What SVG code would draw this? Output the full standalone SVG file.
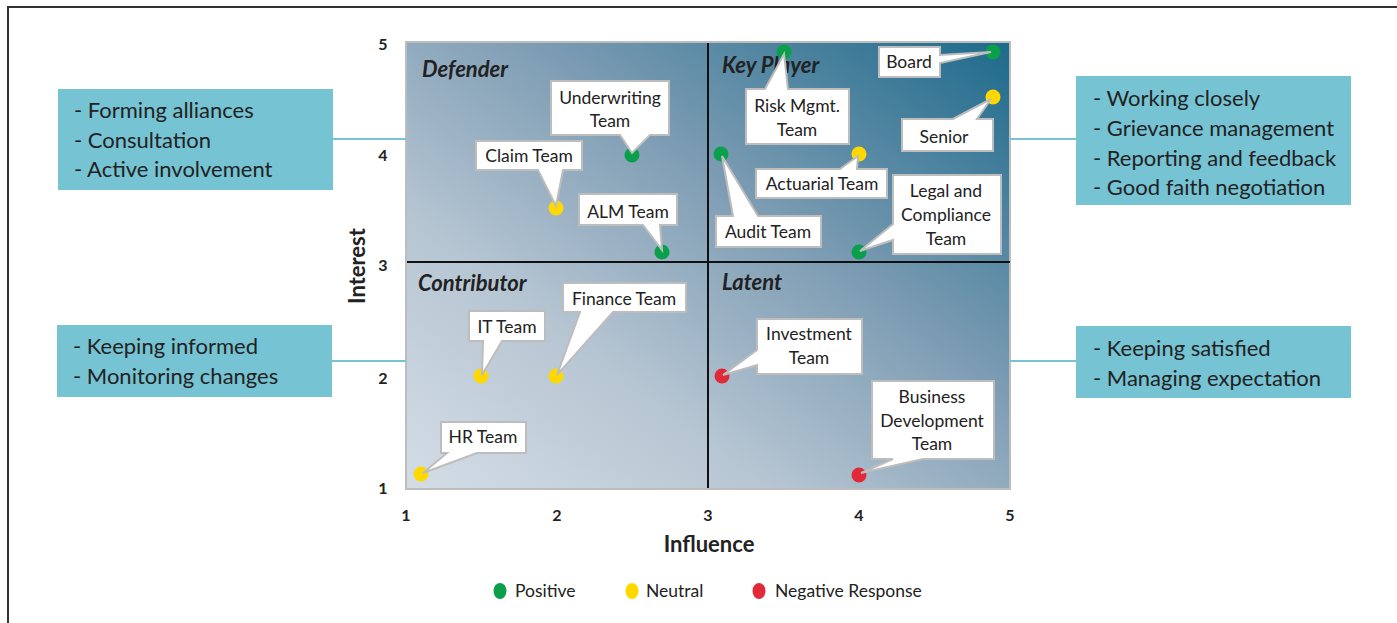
<svg xmlns="http://www.w3.org/2000/svg" width="1397" height="623" viewBox="0 0 1397 623">
<defs>
<linearGradient id="bg" x1="0" y1="1" x2="1" y2="0">
<stop offset="0" stop-color="#d4dde6"/>
<stop offset="0.3" stop-color="#b7c6d3"/>
<stop offset="0.6" stop-color="#7e9db4"/>
<stop offset="1" stop-color="#1d6a8b"/>
</linearGradient>
<style>
text{font-family:Lato,"Open Sans","Liberation Sans",sans-serif;fill:#222}
.box{fill:#75c3d3}
.link{stroke:#75c3d3;stroke-width:2;fill:none}
.side{font-size:22px}
.call{fill:#fff;stroke:#bdbdbd;stroke-width:2;stroke-linejoin:miter}
.ct{font-size:17.5px;text-anchor:middle}
.quad{font-size:22px;font-weight:bold;font-style:italic}
.tick{font-size:16px;font-weight:bold;text-anchor:middle}
.ax{font-size:22px;font-weight:bold;text-anchor:middle}
.g{fill:#0aa04b}.y{fill:#ffd800}.r{fill:#e02a3a}
.leg{font-size:17.5px}
</style>
</defs>
<rect width="1397" height="623" fill="#fff"/>
<path d="M8,623 V7 H1397" fill="none" stroke="#333" stroke-width="2"/>

<g id="plot">
<rect x="406" y="42" width="604" height="447" fill="url(#bg)" stroke="#bdbdbd" stroke-width="2"/>
<line x1="708" y1="43" x2="708" y2="488" stroke="#111" stroke-width="2"/>
<line x1="407" y1="262" x2="1010" y2="262" stroke="#111" stroke-width="2"/>
<text class="quad" x="422" y="77">Defender</text>
<text class="quad" x="722" y="73">Key Player</text>
<text class="quad" x="418" y="291">Contributor</text>
<text class="quad" x="722" y="290">Latent</text>
</g>

<g id="axes">
<text class="tick" x="383" y="50">5</text>
<text class="tick" x="383" y="161">4</text>
<text class="tick" x="383" y="271">3</text>
<text class="tick" x="383" y="384">2</text>
<text class="tick" x="383" y="494">1</text>
<text class="tick" x="406" y="521">1</text>
<text class="tick" x="557" y="521">2</text>
<text class="tick" x="708" y="521">3</text>
<text class="tick" x="859" y="521">4</text>
<text class="tick" x="1010" y="521">5</text>
<text class="ax" x="709" y="552">Influence</text>
<text class="ax" transform="translate(365,266) rotate(-90)">Interest</text>
</g>

<g id="connectors">
<line class="link" x1="333" y1="139" x2="406" y2="139"/>
<line class="link" x1="332" y1="361" x2="406" y2="361"/>
<line class="link" x1="1010" y1="139" x2="1076" y2="139"/>
<line class="link" x1="1010" y1="361" x2="1076" y2="361"/>
</g>

<g id="box-defender">
<rect class="box" x="58" y="89" width="275" height="101"/>
<text class="side" x="74" y="118">- Forming alliances</text>
<text class="side" x="74" y="148">- Consultation</text>
<text class="side" x="74" y="177">- Active involvement</text>
</g>
<g id="box-contributor">
<rect class="box" x="57" y="325" width="275" height="72"/>
<text class="side" x="73" y="354">- Keeping informed</text>
<text class="side" x="73" y="384">- Monitoring changes</text>
</g>
<g id="box-keyplayer">
<rect class="box" x="1076" y="76" width="275" height="129"/>
<text class="side" x="1093" y="106">- Working closely</text>
<text class="side" x="1093" y="136">- Grievance management</text>
<text class="side" x="1093" y="166">- Reporting and feedback</text>
<text class="side" x="1093" y="195">- Good faith negotiation</text>
</g>
<g id="box-latent">
<rect class="box" x="1076" y="326" width="275" height="72"/>
<text class="side" x="1093" y="356">- Keeping satisfied</text>
<text class="side" x="1093" y="386">- Managing expectation</text>
</g>

<g id="dots">
<circle class="g" cx="632" cy="155" r="7.5"/>
<circle class="y" cx="556" cy="208" r="7.5"/>
<circle class="g" cx="662" cy="252" r="7.5"/>
<circle class="g" cx="993" cy="52" r="7.5"/>
<circle class="g" cx="784" cy="52" r="7.5"/>
<circle class="y" cx="993" cy="97" r="7.5"/>
<circle class="y" cx="859" cy="154" r="7.5"/>
<circle class="g" cx="721" cy="154" r="7.5"/>
<circle class="g" cx="859" cy="252" r="7.5"/>
<circle class="y" cx="481" cy="376" r="7.5"/>
<circle class="y" cx="556" cy="376" r="7.5"/>
<circle class="y" cx="421" cy="474" r="7.5"/>
<circle class="r" cx="722" cy="376" r="7.5"/>
<circle class="r" cx="859" cy="475" r="7.5"/>
</g>

<g id="underwriting">
<polygon class="call" points="551,81 669,81 669,135 650,135 632,153 620,135 551,135"/>
<text class="ct" x="610" y="104">Underwriting</text>
<text class="ct" x="610" y="127">Team</text>
</g>
<g id="claim">
<polygon class="call" points="476,141 582,141 582,170 563,170 556,206 538,170 476,170"/>
<text class="ct" x="529" y="162">Claim Team</text>
</g>
<g id="alm">
<polygon class="call" points="579,194 677,194 677,225 660,225 662,250 643,225 579,225"/>
<text class="ct" x="628" y="218">ALM Team</text>
</g>
<g id="board">
<polygon class="call" points="879,47 940,47 940,55 991,52 940,63 940,77 879,77"/>
<text class="ct" x="909" y="68">Board</text>
</g>
<g id="risk">
<polygon class="call" points="746,89 765,89 784,54 788,89 849,89 849,144 746,144"/>
<text class="ct" x="797" y="112">Risk Mgmt.</text>
<text class="ct" x="797" y="136">Team</text>
</g>
<g id="senior">
<polygon class="call" points="902,119 953,119 991,99 977,119 993,119 993,151 902,151"/>
<text class="ct" x="944" y="143">Senior</text>
</g>
<g id="actuarial">
<polygon class="call" points="756,169 840,169 858,156 857,169 887,169 887,198 756,198"/>
<text class="ct" x="822" y="190">Actuarial Team</text>
</g>
<g id="audit">
<polygon class="call" points="716,216 733,216 722,156 758,216 821,216 821,247 716,247"/>
<text class="ct" x="768" y="238">Audit Team</text>
</g>
<g id="legal">
<polygon class="call" points="893,175 1001,175 1001,254 893,254 893,240 860,251 893,224"/>
<text class="ct" x="946" y="197">Legal and</text>
<text class="ct" x="946" y="221">Compliance</text>
<text class="ct" x="946" y="245">Team</text>
</g>
<g id="it">
<polygon class="call" points="469,311 545,311 545,341 502,341 482,375 483,341 469,341"/>
<text class="ct" x="507" y="333">IT Team</text>
</g>
<g id="finance">
<polygon class="call" points="563,283 686,283 686,312 613,312 557,375 580,312 563,312"/>
<text class="ct" x="624" y="305">Finance Team</text>
</g>
<g id="hr">
<polygon class="call" points="441,422 526,422 526,453 477,453 423,473 447,453 441,453"/>
<text class="ct" x="483" y="443">HR Team</text>
</g>
<g id="investment">
<polygon class="call" points="757,319 862,319 862,374 757,374 757,365 723,375 757,350"/>
<text class="ct" x="809" y="340">Investment</text>
<text class="ct" x="809" y="364">Team</text>
</g>
<g id="bizdev">
<polygon class="call" points="872,381 994,381 994,459 923,459 861,473 893,459 872,459"/>
<text class="ct" x="932" y="403">Business</text>
<text class="ct" x="932" y="427">Development</text>
<text class="ct" x="932" y="450">Team</text>
</g>

<g id="legend">
<ellipse class="g" cx="500" cy="591" rx="6.5" ry="8"/>
<text class="leg" x="515" y="597">Positive</text>
<ellipse class="y" cx="632" cy="591" rx="6.5" ry="8"/>
<text class="leg" x="646" y="597">Neutral</text>
<ellipse class="r" cx="759" cy="591" rx="6.5" ry="8"/>
<text class="leg" x="775" y="597">Negative Response</text>
</g>
</svg>
